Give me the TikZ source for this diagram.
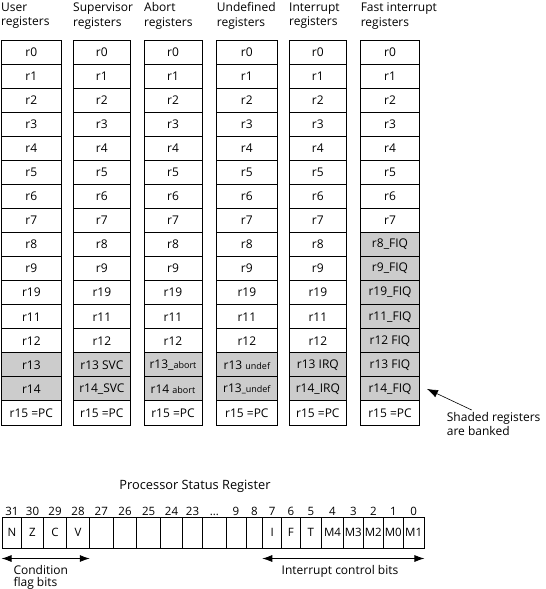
\documentclass[tikz,border=0pt]{standalone}
\usepackage{fontspec}
\setmainfont{Open Sans}
\usetikzlibrary{positioning,arrows.meta}

\definecolor{bankgray}{RGB}{204,204,204}
\newcommand{\smalltag}[1]{{\fontsize{9}{10}\selectfont #1}}

\tikzset{
  reg/.style={draw, line width=0.9pt, inner sep=0pt, minimum height=24.06pt, font=\fontsize{12}{14}\selectfont},
  banked/.style={reg, fill=bankgray},
  head/.style={anchor=north west, align=left, inner sep=0pt, font=\fontsize{12}{14.6}\selectfont},
  bitcell/.style={draw, line width=0.9pt, inner sep=0pt, minimum height=31.5pt, font=\fontsize{11.5}{13}\selectfont},
  bitnum/.style={anchor=base, inner sep=0pt, font=\fontsize{11.5}{13}\selectfont},
  note/.style={anchor=north west, align=left, inner sep=0pt, font=\fontsize{12}{14}\selectfont},
  span/.style={line width=0.8pt, {Latex[length=10pt,width=7pt]}-{Latex[length=10pt,width=7pt]}},
  pointer/.style={line width=0.6pt, -{Latex[length=11pt,width=8pt]}}
}

\begin{document}
\begin{tikzpicture}[x=1pt, y=-1pt]
        \useasboundingbox (0,0) rectangle (546,589);

        % column headings
        \node[head] (hu) at (1,2.5) {User\\registers};
        \node[head] (hs) at (73,2.5) {Supervisor\\registers};
        \node[head] (ha) at (144,2.5) {Abort\\registers};
        \node[head] (hd) at (216.7,2.5) {Undefined\\registers};
        \node[head] (hq) at (289,2.5) {Interrupt\\registers};
        \node[head] (hf) at (360.6,2.5) {Fast interrupt\\registers};

        % r0 - r7, same in every mode
        \foreach \c/\x/\w in {u/31.35/60.7, s/101.85/57.7, a/173/58, d/246.85/60.3, q/317.85/57.7, f/390/59}
          \foreach \lab [count=\i from 0] in {r0,r1,r2,r3,r4,r5,r6,r7}
            \node[reg, minimum width=\w pt] (\c\i) at (\x, {52.03+24.0625*\i}) {\lab};

        % r8 - r12 outside FIQ mode
        \foreach \c/\x/\w in {u/31.35/60.7, s/101.85/57.7, a/173/58, d/246.85/60.3, q/317.85/57.7}
          \foreach \lab [count=\i from 8] in {r8,r9,r19,r11,r12}
            \node[reg, minimum width=\w pt] (\c\i) at (\x, {52.03+24.0625*\i}) {\lab};

        % banked r13, r14
        \node[banked, minimum width=60.7pt] (u13) at (31.35,364.84) {r13};
        \node[banked, minimum width=60.7pt] (u14) at (31.35,388.91) {r14};
        \node[banked, minimum width=57.7pt] (s13) at (101.85,364.84) {r13 SVC};
        \node[banked, minimum width=57.7pt] (s14) at (101.85,388.91) {r14\_SVC};
        \node[banked, minimum width=58pt] (a13) at (173,364.84) {r13\_\smalltag{abort}};
        \node[banked, minimum width=58pt] (a14) at (173,388.91) {r14 \smalltag{abort}};
        \node[banked, minimum width=60.3pt] (d13) at (246.85,364.84) {r13 \smalltag{undef}};
        \node[banked, minimum width=60.3pt] (d14) at (246.85,388.91) {r13\smalltag{\_undef}};
        \node[banked, minimum width=57.7pt] (q13) at (317.85,364.84) {r13 IRQ};
        \node[banked, minimum width=57.7pt] (q14) at (317.85,388.91) {r14\_IRQ};
        \node[banked, minimum width=59pt] (f8) at (390,244.53) {r8\_FIQ};
        \node[banked, minimum width=59pt] (f9) at (390,268.59) {r9\_FIQ};
        \node[banked, minimum width=59pt] (f10) at (390,292.66) {r19\_FIQ};
        \node[banked, minimum width=59pt] (f11) at (390,316.72) {r11\_FIQ};
        \node[banked, minimum width=59pt] (f12) at (390,340.78) {r12 FIQ};
        \node[banked, minimum width=59pt] (f13) at (390,364.84) {r13 FIQ};
        \node[banked, minimum width=59pt] (f14) at (390,388.91) {r14\_FIQ};

        % r15
        \foreach \c/\x/\w in {u/31.35/60.7, s/101.85/57.7, a/173/58, d/246.85/60.3, q/317.85/57.7, f/390/59}
          \node[reg, minimum width=\w pt] (\c15) at (\x,412.97) {r15 =PC};

        \node[note] (banknote) at (446.7,412) {Shaded registers\\are banked};
        \draw[pointer] ([xshift=25pt,yshift=2pt]banknote.north west) -- ([xshift=7pt]f14.east);

        % processor status register
        \node[font=\fontsize{12.8}{14}\selectfont] (psr) at (195,486) {Processor Status Register};
        \foreach \l/\r/\t/\n [count=\k] in {2/21.7/N/31, 21.7/43.3/Z/30, 43.3/66.7/C/29, 66.7/89.3/V/28,
            89.3/113.3//27, 113.3/136.7//26, 136.7/160.7//25, 160.7/182.3//24, 182.3/202.7//23,
            202.7/226//{\dots}, 226/246//9, 246/262.7//8, 262.7/281.7/I/7, 281.7/300/F/6,
            300/321.7/T/5, 321.7/343.3/M4/4, 343.3/363.3/M3/3, 363.3/383.3/M2/2, 383.3/403.3/M0/1,
            403.3/424/M1/0}
        {
          \node[bitcell, minimum width={(\r-\l)*1pt}] (b\k) at ({(\l+\r)/2},532.8) {\t};
          \node[bitnum] (n\k) at ({(\l+\r)/2},515.5) {\n};
        }

        \draw[span] ([yshift=-9.5pt]b1.south west) -- ([yshift=-9.5pt]b4.south east);
        \draw[span] ([yshift=-9.5pt]b13.south west) -- ([yshift=-9.5pt]b20.south east);
        \node[note, font=\fontsize{12}{11.7}\selectfont] (condbits) at (13.3,565) {Condition\\flag bits};
        \node[font=\fontsize{12}{14}\selectfont] (intbits) at (340,571) {Interrupt control bits};

    \end{tikzpicture}
\end{document}
